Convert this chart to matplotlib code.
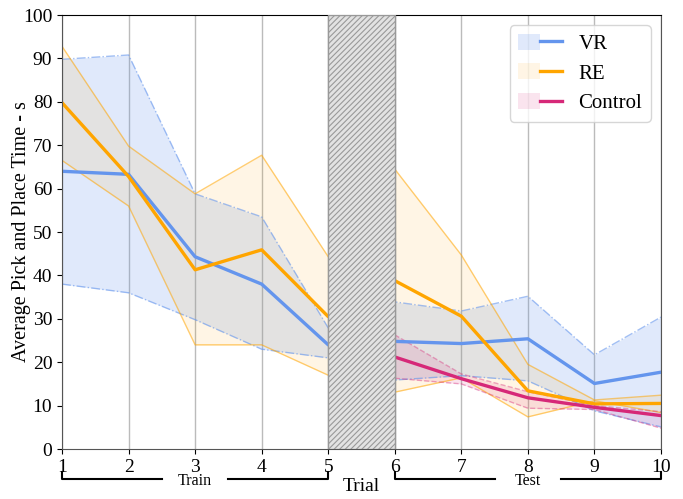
import numpy as np
import matplotlib.pyplot as plt
import matplotlib.patches as mpatches
import matplotlib.transforms as mtransforms
from matplotlib.legend_handler import HandlerTuple

plt.rcParams['font.family'] = ['Liberation Serif', 'DejaVu Serif']
plt.rcParams['hatch.color'] = '#888888'
plt.rcParams['hatch.linewidth'] = 0.8

trials = [1, 2, 3, 4, 5, 6, 7, 8, 9, 10]
vr_mean = [64.0, 63.3, 44.3, 38.0, 24.0, 24.8, 24.3, 25.4, 15.1, 17.7]
vr_upper = [89.8, 90.8, 58.8, 53.5, 27.9, 33.9, 31.8, 35.2, 21.7, 30.4]
vr_lower = [38.0, 36.0, 29.8, 23.0, 21.0, 15.9, 16.9, 15.7, 8.8, 5.1]

re_mean = [79.8, 62.8, 41.3, 45.9, 30.5, 38.8, 30.6, 13.4, 10.4, 10.5]
re_upper = [92.8, 69.8, 58.8, 67.7, 44.3, 64.5, 44.7, 19.5, 11.3, 12.4]
re_lower = [66.5, 56.0, 24.0, 24.0, 17.0, 13.1, 16.4, 7.4, 11.1, 8.4]

ctrl_trials = [6, 7, 8, 9, 10]
ctrl_mean = [21.2, 16.2, 11.8, 9.6, 7.7]
ctrl_upper = [26.3, 17.3, 13.2, 10.0, 8.6]
ctrl_lower = [16.3, 15.0, 9.4, 9.1, 4.8]

c_vr = '#6495ED'
c_re = '#FFA500'
c_ctrl = '#D62878'

fig = plt.figure(figsize=(6.83, 4.99), dpi=100)
ax = fig.add_axes([0.0908, 0.1002, 0.877, 0.8696])

ax.fill_between(trials, vr_lower, vr_upper, color=c_vr, alpha=0.2, lw=0)
ax.plot(trials, vr_upper, color=c_vr, alpha=0.6, lw=1, ls='-.')
ax.plot(trials, vr_lower, color=c_vr, alpha=0.6, lw=1, ls='-.')

ax.fill_between(trials, re_lower, re_upper, color=c_re, alpha=0.1, lw=0)
ax.plot(trials, re_upper, color=c_re, alpha=0.55, lw=1)
ax.plot(trials, re_lower, color=c_re, alpha=0.55, lw=1)

ax.fill_between(ctrl_trials, ctrl_lower, ctrl_upper, color=c_ctrl, alpha=0.12, lw=0)
ax.plot(ctrl_trials, ctrl_upper, color=c_ctrl, alpha=0.4, lw=1, ls='--')
ax.plot(ctrl_trials, ctrl_lower, color=c_ctrl, alpha=0.4, lw=1, ls='--')

l_vr, = ax.plot(trials, vr_mean, color=c_vr, lw=2.4)
l_re, = ax.plot(trials, re_mean, color=c_re, lw=2.4)
l_ctrl, = ax.plot(ctrl_trials, ctrl_mean, color=c_ctrl, lw=2.4)

# break between train and test
ax.axvspan(5, 6, facecolor='#e2e2e2', edgecolor='#999999', hatch='//////', lw=1, zorder=3)

ax.set_xlim(1, 10)
ax.set_ylim(0, 100)
ax.set_xticks(trials)
ax.set_yticks(range(0, 101, 10))
ax.tick_params(labelsize=14)
ax.grid(axis='x', color='#bbbbbb', lw=1)
ax.set_axisbelow(True)
for side in ['left', 'bottom', 'right']:
    ax.spines[side].set_color('#555555')
ax.set_ylabel('Average Pick and Place Time - s', fontsize=14.5)
ax.yaxis.set_label_coords(-0.052, 0.5)
ax.set_xlabel('Trial', fontsize=14)
ax.xaxis.set_label_coords(0.5, -0.066)

# Train / Test brackets
trans = mtransforms.blended_transform_factory(ax.transData, ax.transAxes)
for x0, x1, name in [(1, 5, 'Train'), (6, 10, 'Test')]:
    mid = (x0 + x1) / 2
    ax.plot([x0, x0, mid - 0.5], [-0.054, -0.069, -0.069], color='black', lw=1.5,
            transform=trans, clip_on=False)
    ax.plot([mid + 0.5, x1, x1], [-0.069, -0.069, -0.054], color='black', lw=1.5,
            transform=trans, clip_on=False)
    ax.text(mid, -0.074, name, fontsize=11.5, ha='center', va='center', transform=trans)

h_vr = (mpatches.Patch(color=c_vr, alpha=0.2, lw=0), l_vr)
h_re = (mpatches.Patch(color=c_re, alpha=0.1, lw=0), l_re)
h_ctrl = (mpatches.Patch(color=c_ctrl, alpha=0.12, lw=0), l_ctrl)
ax.legend([h_vr, h_re, h_ctrl], ['VR', 'RE', 'Control'], loc='upper right', fontsize=15,
          handler_map={tuple: HandlerTuple(ndivide=None, pad=0)}, framealpha=0.8,
          handlelength=2.1, handleheight=0.8, handletextpad=0.8, labelspacing=0.45)

fig.savefig('out.png', dpi=100)
